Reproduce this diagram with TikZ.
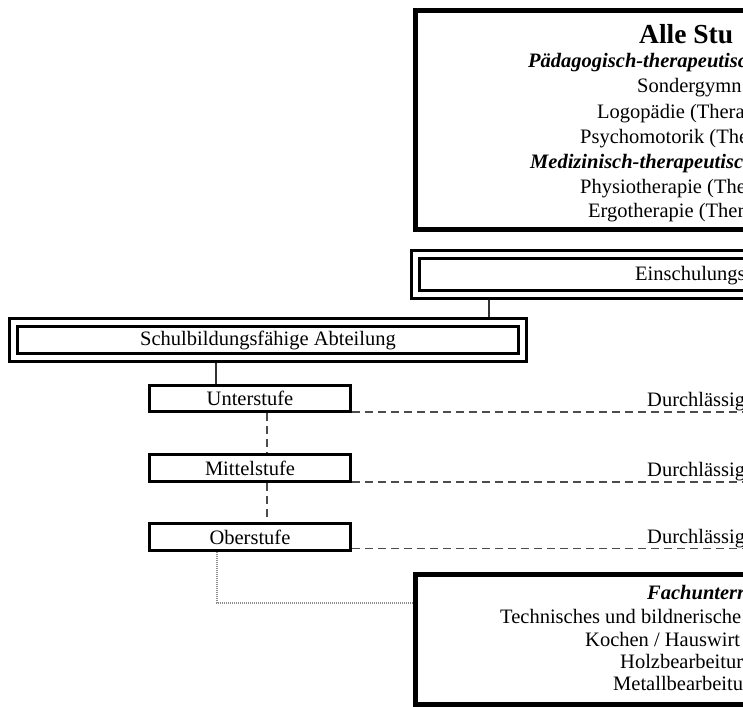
\documentclass[tikz,border=0pt]{standalone}
\usepackage{fontspec}
\setmainfont{Liberation Serif}
\begin{document}
\begin{tikzpicture}[x=1pt,y=-1pt,
  txt/.style={inner sep=0pt, anchor=base west, font=\fontsize{20.5}{24}\selectfont},
  btxt/.style={txt, font=\fontsize{20.5}{24}\selectfont\bfseries\itshape},
  ttxt/.style={txt, font=\fontsize{27.5}{31}\selectfont\bfseries},
  bigbox/.style={draw, line width=5pt, outer sep=2.5pt, inner sep=0pt},
  dblbox/.style={draw, line width=3pt, double, double distance=5pt, outer sep=5.5pt, inner sep=0pt, font=\fontsize{20.5}{24}\selectfont},
  stufe/.style={draw, line width=3pt, outer sep=1.5pt, inner sep=0pt, minimum width=201pt, minimum height=27pt, font=\fontsize{20.5}{24}\selectfont},
  conn/.style={line width=1.1pt, black!80},
  dashline/.style={line width=1.4pt, black!70, dash pattern=on 8pt off 5pt},
  dotline/.style={line width=1.2pt, black!45, dash pattern=on 1pt off 1pt}]
\useasboundingbox (0,0) rectangle (743,706);
\clip (0,0) rectangle (743,706);

% top box
\node[bigbox, minimum width=656pt, minimum height=219pt] (top) at (743.5,120) {};
\node[ttxt] (t0) at (639,43.5) {Alle Stu};
\node[btxt] (t1) at (528,68) {Pädagogisch-therapeutisc};
\node[txt]  (t2) at (637,93) {Sondergymn};
\node[txt]  (t3) at (597,118.5) {Logopädie (Thera};
\node[txt]  (t4) at (580,143) {Psychomotorik (The};
\node[btxt] (t5) at (530,168.5) {Medizinisch-therapeutisc};
\node[txt]  (t6) at (580,193.5) {Physiotherapie (The};
\node[txt]  (t7) at (588,217.5) {Ergotherapie (Ther};

% Einschulung
\node[dblbox, minimum width=656pt, minimum height=40pt] (e) at (743.5,274.5) {};
\node[txt] (et) at (635,280.5) {Einschulungs};

% Schulbildungsfaehige Abteilung
\node[dblbox, minimum width=509pt, minimum height=35pt] (s) at (268,340) {Schulbildungsfähige Abteilung};

% Stufen
\node[stufe, minimum height=26pt] (u) at (250,398.5) {Unterstufe};
\node[stufe] (m) at (250,468) {Mittelstufe};
\node[stufe] (o) at (250,537) {Oberstufe};

% Durchlaessigkeit labels
\node[txt] (d1t) at (647,406.5) {Durchlässig};
\node[txt] (d2t) at (647,476.5) {Durchlässig};
\node[txt] (d3t) at (647,543.5) {Durchlässig};

% Fachunterricht box
\node[bigbox, minimum width=656pt, minimum height=130pt] (f) at (743.5,639.5) {};
\node[btxt] (f0) at (647,599.5) {Fachunterr};
\node[txt]  (f1) at (500,623.5) {Technisches und bildnerische};
\node[txt]  (f2) at (585,646.5) {Kochen / Hauswirt};
\node[txt]  (f3) at (620,668) {Holzbearbeitur};
\node[txt]  (f4) at (613,690) {Metallbearbeitu};

% helper coordinates
\coordinate (ax) at (489,0);
\coordinate (bx) at (216,0);
\coordinate (vx) at (267,0);
\coordinate (px) at (217,0);
\coordinate (qy) at (0,603);
\coordinate (r1) at (760,412);
\coordinate (r2) at (760,482);
\coordinate (r3) at (760,548.5);

% connectors
\draw[conn] (e.south -| ax) -- (s.north -| ax);
\draw[conn] (s.south -| bx) -- (u.north -| bx);
\draw[dashline] (u.south -| vx) -- (m.north -| vx);
\draw[dashline] (m.south -| vx) -- (o.north -| vx);
\draw[dashline] (u.east |- r1) -- (r1);
\draw[dashline] (m.east |- r2) -- (r2);
\draw[dashline] (o.east |- r3) -- (r3);
\draw[dotline] (o.south -| px) |- (f.west |- qy);
\end{tikzpicture}
\end{document}
